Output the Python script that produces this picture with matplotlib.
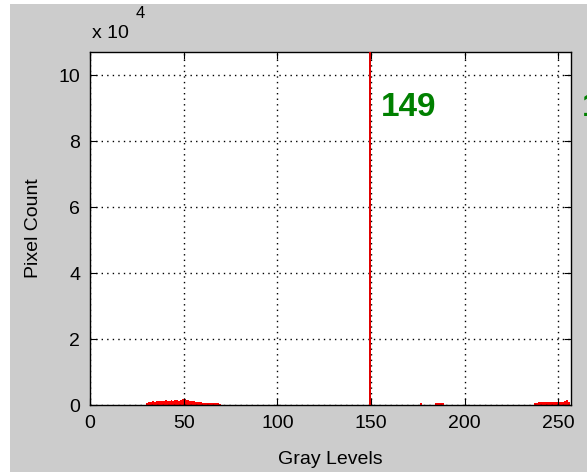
import matplotlib.pyplot as plt
from matplotlib.patches import Rectangle

# histogram data (gray level, pixel count)
levels = [30, 31, 32, 33, 34, 35, 36, 37, 38, 39, 40, 41, 42, 43, 44, 45, 46, 47, 48, 49,
          50, 51, 52, 53, 54, 55, 56, 57, 58, 59, 60, 61, 62, 63, 64, 65, 66, 67, 68, 69,
          176, 184, 185, 186, 187, 188,
          237, 238, 239, 240, 241, 242, 243, 244, 245, 246, 247, 248, 249, 250, 251, 252, 253, 254, 255]
counts = [500, 900, 1000, 1100, 1000, 1200, 1300, 1200, 1100, 1300, 1500, 1200, 1300, 1400, 1300, 1500, 1400, 1300, 1600, 1700,
          1900, 1500, 1400, 1300, 1200, 1100, 1000, 900, 900, 800, 700, 600, 500, 700, 600, 500, 600, 700, 500, 300,
          500, 600, 700, 700, 700, 600,
          500, 700, 800, 800, 900, 900, 800, 900, 900, 900, 800, 900, 900, 800, 900, 900, 1200, 1600, 1000]
threshold = 149
ymax = 107000
xticks = [0, 50, 100, 150, 200, 250]
yticks = [0, 20000, 40000, 60000, 80000, 100000]
ytick_labels = ['0', '2', '4', '6', '8', '10']

plt.rcParams['font.family'] = ['Liberation Sans', 'DejaVu Sans']

fig = plt.figure(figsize=(5.87, 4.72), dpi=100, facecolor='white')
fig.patches.append(Rectangle((10 / 587, 0), 1, 1 - 4 / 472, transform=fig.transFigure,
                             facecolor='#cccccc', edgecolor='none', zorder=-10))

ax = fig.add_axes([90 / 587, 1 - 405 / 472, (571 - 90) / 587, (405 - 52) / 472])
ax.set_facecolor('white')
ax.bar(levels, counts, width=1.0, color='red', edgecolor='none', align='edge')
# threshold marker
ax.bar([threshold], [ymax], width=1.0, color='#e00000', edgecolor='none', align='edge', zorder=3)
ax.set_xlim(0, 256.7)
ax.set_ylim(0, ymax)
ax.set_xticks(xticks)
ax.set_yticks(yticks)
ax.set_yticklabels(ytick_labels)
ax.tick_params(direction='in', top=True, right=True, labelsize=14, length=5, colors='black')
ax.tick_params(axis='y', pad=7)
ax.tick_params(axis='x', pad=7)
ax.grid(True, color='black', linestyle=(0, (1, 3)), linewidth=1.0)
ax.set_axisbelow(False)
for s in ax.spines.values():
    s.set_linewidth(1.0)

ax.set_xlabel('Gray Levels', fontsize=14, labelpad=14)
ax.set_ylabel('Pixel Count', fontsize=14, labelpad=12)

ax.text(threshold + 6, 90300, '149', color='#008000', fontsize=24, fontweight='bold', va='center')
ax.text(262.3, 90300, '149', color='#008000', fontsize=24, fontweight='bold', va='center', clip_on=False)

fig.text(92 / 587, 1 - 33 / 472, 'x 10', fontsize=14, va='center')
fig.text(136 / 587, 1 - 13 / 472, '4', fontsize=12, va='center')

fig.savefig('out.png', dpi=100, facecolor=fig.get_facecolor())
